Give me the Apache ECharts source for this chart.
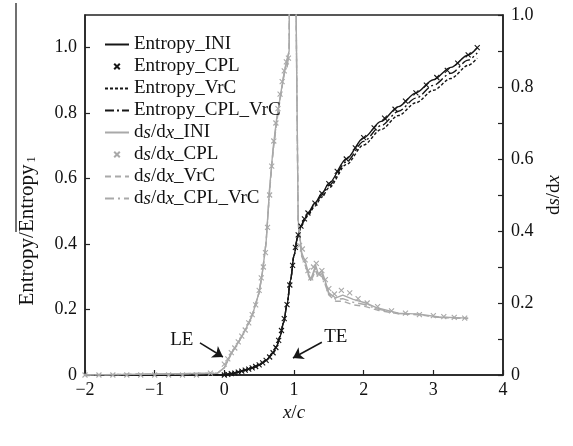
<!DOCTYPE html>
<html>
<head>
<meta charset="utf-8">
<script src="https://cdn.jsdelivr.net/npm/echarts@6/dist/echarts.min.js"></script>
<style>
  html, body { margin: 0; padding: 0; background: #fff; }
  #chart { width: 573px; height: 446px; }
</style>
</head>
<body>
<div id="chart"></div>
<script>
// entropy (left axis)
const entX = [-2, 0, 0.1, 0.2, 0.3, 0.4, 0.5, 0.6, 0.7, 0.75, 0.8, 0.85, 0.9, 0.95, 1.0, 1.05, 1.1, 1.15, 1.2, 1.3, 1.4, 1.5, 1.75, 2.0, 2.25, 2.5, 2.75, 3.0, 3.25, 3.5, 3.63]
const entINI = [0, 0, 0.004, 0.009, 0.015, 0.022, 0.031, 0.045, 0.068, 0.088, 0.118, 0.16, 0.215, 0.29, 0.365, 0.42, 0.455, 0.477, 0.495, 0.525, 0.555, 0.585, 0.66, 0.725, 0.775, 0.82, 0.862, 0.902, 0.94, 0.978, 1.0]
const entVrC = [0, 0, 0.004, 0.009, 0.015, 0.022, 0.031, 0.045, 0.068, 0.088, 0.118, 0.16, 0.215, 0.29, 0.365, 0.42, 0.453, 0.472, 0.488, 0.516, 0.544, 0.572, 0.643, 0.703, 0.75, 0.793, 0.832, 0.87, 0.906, 0.946, 0.968]
const entCplVrC = [0, 0, 0.004, 0.009, 0.015, 0.022, 0.031, 0.045, 0.068, 0.088, 0.118, 0.16, 0.215, 0.29, 0.365, 0.42, 0.454, 0.475, 0.492, 0.521, 0.55, 0.579, 0.651, 0.714, 0.762, 0.806, 0.846, 0.885, 0.922, 0.962, 0.984]
const entCplX = [0, 0.05, 0.1, 0.15, 0.2, 0.25, 0.3, 0.35, 0.4, 0.45, 0.5, 0.55, 0.6, 0.65, 0.7, 0.74, 0.78, 0.82, 0.86, 0.9, 0.94, 0.98, 1.02, 1.06, 1.1, 1.15, 1.2, 1.3, 1.4, 1.5, 1.62, 1.75, 1.88, 2.0, 2.15, 2.3, 2.45, 2.6, 2.75, 2.9, 3.05, 3.2, 3.35, 3.5, 3.63]
const entCPL = [0, 0.002, 0.004, 0.006, 0.009, 0.012, 0.015, 0.018, 0.022, 0.026, 0.031, 0.037, 0.045, 0.055, 0.068, 0.084, 0.106, 0.136, 0.172, 0.215, 0.275, 0.335, 0.39, 0.428, 0.455, 0.477, 0.495, 0.525, 0.555, 0.585, 0.622, 0.66, 0.694, 0.725, 0.755, 0.785, 0.812, 0.837, 0.862, 0.886, 0.909, 0.931, 0.953, 0.978, 1.0]

// ds/dx (right axis)
const dsX = [-2, -0.1, 0, 0.05, 0.1, 0.2, 0.3, 0.4, 0.5, 0.55, 0.6, 0.65, 0.7, 0.75, 0.8, 0.85, 0.88, 0.9, 0.93, 0.95, 1.0, 1.06, 1.11, 1.17, 1.21, 1.24, 1.31, 1.35, 1.4, 1.45, 1.5, 1.6, 1.7, 1.85, 2.03, 2.2, 2.5, 2.8, 3.08, 3.5]
const dsINI = [0, 0.005, 0.02, 0.04, 0.06, 0.09, 0.125, 0.165, 0.23, 0.29, 0.37, 0.52, 0.63, 0.71, 0.77, 0.83, 0.86, 0.855, 0.9, 1.6, 1.6, 0.43, 0.34, 0.31, 0.28, 0.264, 0.305, 0.28, 0.29, 0.26, 0.228, 0.214, 0.222, 0.21, 0.2, 0.186, 0.172, 0.169, 0.161, 0.158]
const dsVrC = [0, 0.005, 0.02, 0.04, 0.06, 0.09, 0.125, 0.165, 0.23, 0.29, 0.37, 0.51, 0.62, 0.70, 0.765, 0.825, 0.855, 0.85, 0.9, 1.6, 1.6, 0.42, 0.33, 0.3, 0.275, 0.26, 0.29, 0.27, 0.275, 0.25, 0.222, 0.205, 0.205, 0.195, 0.19, 0.18, 0.17, 0.167, 0.16, 0.157]
const dsCplVrC = [0, 0.005, 0.02, 0.04, 0.06, 0.09, 0.125, 0.165, 0.23, 0.29, 0.37, 0.515, 0.625, 0.705, 0.768, 0.828, 0.858, 0.852, 0.9, 1.6, 1.6, 0.425, 0.335, 0.305, 0.278, 0.262, 0.298, 0.275, 0.282, 0.255, 0.225, 0.21, 0.212, 0.202, 0.195, 0.183, 0.171, 0.168, 0.16, 0.157]
const dsCplX = [-2, -1.8, -1.6, -1.4, -1.2, -1, -0.8, -0.6, -0.4, -0.2, 0, 0.05, 0.1, 0.15, 0.2, 0.25, 0.3, 0.35, 0.4, 0.45, 0.5, 0.53, 0.56, 0.59, 0.62, 0.65, 0.68, 0.71, 0.74, 0.77, 0.8, 0.83, 0.86, 0.89, 0.92, 1.08, 1.12, 1.16, 1.2, 1.24, 1.28, 1.32, 1.36, 1.4, 1.45, 1.5, 1.58, 1.68, 1.8, 1.92, 2.05, 2.2, 2.4, 2.6, 2.8, 3.0, 3.15, 3.3, 3.45]
const dsCPL = [0, 0, 0, 0, 0, 0, 0, 0, 0, 0.005, 0.03, 0.045, 0.062, 0.075, 0.092, 0.108, 0.125, 0.145, 0.168, 0.195, 0.235, 0.27, 0.3, 0.34, 0.41, 0.5, 0.58, 0.65, 0.7, 0.74, 0.78, 0.815, 0.845, 0.87, 0.88, 0.36, 0.35, 0.32, 0.29, 0.27, 0.3, 0.31, 0.28, 0.29, 0.265, 0.24, 0.225, 0.235, 0.228, 0.212, 0.2, 0.19, 0.178, 0.172, 0.168, 0.165, 0.162, 0.16, 0.158]

const seriesNames = ['Entropy_INI', 'Entropy_CPL', 'Entropy_VrC', 'Entropy_CPL_VrC', 'ds/dx_INI', 'ds/dx_CPL', 'ds/dx_VrC', 'ds/dx_CPL_VrC']
const markerSeries = ['Entropy_CPL', 'ds/dx_CPL']

// LE / TE annotations, in data units of the left axis
const leArrow = [[-0.35, 0.098], [-0.02, 0.055]]
const teArrow = [[1.40, 0.10], [0.985, 0.052]]
const leText = [-0.61, 0.107]
const teText = [1.60, 0.116]

const FONT = 'Liberation Serif'
const BLACK = '#161616'
const GRAY = '#a9a9a9'
const CROSS = 'path://M0,0L10,10M10,0L0,10'

const zip = (xs, ys) => xs.map((x, i) => [x, ys[i]])

function lineSeries(name, xs, ys, axis, color, type) {
  return {
    name: name,
    type: 'line',
    yAxisIndex: axis,
    data: zip(xs, ys),
    symbol: 'none',
    animation: false,
    lineStyle: { color: color, width: 1.4, type: type },
    itemStyle: { color: color }
  }
}

function crossSeries(name, xs, ys, axis, color) {
  return {
    name: name,
    type: 'line',
    yAxisIndex: axis,
    data: zip(xs, ys),
    symbol: CROSS,
    symbolSize: 5,
    showSymbol: true,
    animation: false,
    lineStyle: { width: 0, color: color },
    itemStyle: { color: 'transparent', borderColor: color, borderWidth: 1.1 }
  }
}

const chart = echarts.init(document.getElementById('chart'), null, { renderer: 'canvas' })

const entIni = lineSeries('Entropy_INI', entX, entINI, 0, BLACK, 'solid')
entIni.smooth = 0.3
entIni.smoothMonotone = 'x'
entIni.markLine = {
  silent: true,
  symbol: ['none', 'arrow'],
  symbolSize: 10,
  label: { show: false },
  lineStyle: { color: BLACK, width: 1.5, type: 'solid' },
  data: [
    [{ coord: leArrow[0] }, { coord: leArrow[1] }],
    [{ coord: teArrow[0] }, { coord: teArrow[1] }]
  ]
}
entIni.markPoint = {
  silent: true,
  symbol: 'circle',
  symbolSize: 1,
  itemStyle: { color: 'transparent' },
  label: { show: true, position: 'inside', formatter: '{b}', color: '#111', fontFamily: FONT, fontSize: 19 },
  data: [
    { name: 'LE', coord: leText },
    { name: 'TE', coord: teText }
  ]
}

const entVrcS = lineSeries('Entropy_VrC', entX, entVrC, 0, BLACK, [3, 2])
entVrcS.smooth = 0.3
entVrcS.smoothMonotone = 'x'
const entCplVrcS = lineSeries('Entropy_CPL_VrC', entX, entCplVrC, 0, BLACK, [9, 3, 2, 3])
entCplVrcS.smooth = 0.3
entCplVrcS.smoothMonotone = 'x'

// legend: line entries without the dot ECharts puts in the middle
const legendData = seriesNames.map(n => markerSeries.includes(n)
  ? { name: n }
  : { name: n, itemStyle: { color: 'rgba(0,0,0,0)', borderColor: 'rgba(0,0,0,0)', borderWidth: 0 } })

const option = {
  backgroundColor: '#fff',
  animation: false,
  grid: {
    left: 85, right: 70, top: 15, bottom: 71,
    show: true, borderColor: '#222', borderWidth: 1.5,
    outerBoundsMode: 'none'
  },
  legend: {
    orient: 'vertical',
    left: 104,
    top: 35,
    padding: 0,
    itemWidth: 24,
    itemHeight: 7,
    itemGap: 3,
    data: legendData,
    formatter: name => name.startsWith('ds/dx') ? 'd{i|s}/d{i|x}' + name.slice(5) : name,
    textStyle: {
      fontFamily: FONT, fontSize: 19, color: '#111',
      rich: { i: { fontFamily: FONT, fontSize: 19, fontStyle: 'italic', color: '#111' } }
    }
  },
  xAxis: {
    type: 'value',
    min: -2, max: 4, interval: 1,
    name: '{i|x}/{i|c}',
    nameLocation: 'middle',
    nameGap: 17,
    nameTextStyle: {
      fontFamily: FONT, fontSize: 19, color: '#111',
      rich: { i: { fontFamily: FONT, fontSize: 19, fontStyle: 'italic', color: '#111' } }
    },
    splitLine: { show: false },
    axisLine: { show: true, onZero: false, lineStyle: { color: '#222', width: 1.5 } },
    axisTick: { show: true, inside: true, length: 5, lineStyle: { color: '#222', width: 1.2 } },
    axisLabel: {
      fontFamily: FONT, fontSize: 18, color: '#111', margin: 6,
      formatter: v => String(v).replace('-', '\u2212')
    }
  },
  yAxis: [
    {
      type: 'value',
      min: 0, max: 1.1, interval: 0.2,
      position: 'left',
      splitLine: { show: false },
      axisLine: { show: true, onZero: false, lineStyle: { color: '#222', width: 1.5 } },
      axisTick: { show: true, inside: true, length: 5, lineStyle: { color: '#222', width: 1.2 } },
      axisLabel: {
        fontFamily: FONT, fontSize: 18, color: '#111', margin: 8,
        showMaxLabel: false,
        formatter: v => v > 1.05 ? '' : (v === 0 ? '0' : v.toFixed(1))
      }
    },
    {
      type: 'value',
      min: 0, max: 1, interval: 0.1,
      position: 'right',
      name: 'd{i|s}/d{i|x}',
      nameLocation: 'middle',
      nameGap: 38,
      nameRotate: 90,
      nameTextStyle: {
        fontFamily: FONT, fontSize: 19, color: '#111',
        rich: { i: { fontFamily: FONT, fontSize: 19, fontStyle: 'italic', color: '#111' } }
      },
      splitLine: { show: false },
      axisLine: { show: true, onZero: false, lineStyle: { color: '#222', width: 1.5 } },
      axisTick: { show: true, inside: true, length: 5, lineStyle: { color: '#222', width: 1.2 } },
      axisLabel: {
        fontFamily: FONT, fontSize: 18, color: '#111', margin: 8,
        formatter: v => {
          const k = Math.round(v * 10)
          if (k % 2 !== 0) return ''
          return k === 0 ? '0' : (k / 10).toFixed(1)
        }
      }
    }
  ],
  graphic: [
    {
      type: 'text',
      rotation: Math.PI / 2,
      x: 27, y: 231,
      style: {
        text: 'Entropy/Entropy{s|1}',
        fontFamily: FONT, fontSize: 21, fill: '#111',
        align: 'center', verticalAlign: 'middle',
        rich: { s: { fontFamily: FONT, fontSize: 12, fill: '#111', padding: [10, 0, 0, 2] } }
      }
    },
    {
      type: 'line',
      shape: { x1: 16, y1: 3, x2: 16, y2: 232 },
      style: { stroke: '#111', lineWidth: 1.2 }
    }
  ],
  series: [
    entIni,
    crossSeries('Entropy_CPL', entCplX, entCPL, 0, BLACK),
    entVrcS,
    entCplVrcS,
    lineSeries('ds/dx_INI', dsX, dsINI, 1, GRAY, 'solid'),
    crossSeries('ds/dx_CPL', dsCplX, dsCPL, 1, GRAY),
    lineSeries('ds/dx_VrC', dsX, dsVrC, 1, GRAY, [6, 4]),
    lineSeries('ds/dx_CPL_VrC', dsX, dsCplVrC, 1, GRAY, [9, 4, 2, 4])
  ]
}

chart.setOption(option)
</script>
</body>
</html>
